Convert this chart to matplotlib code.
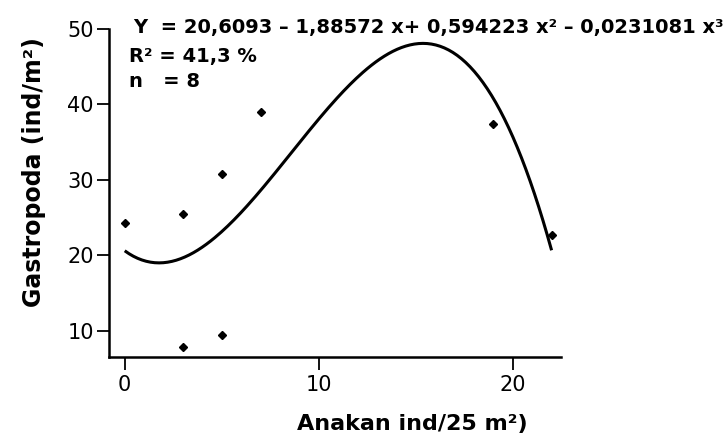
import numpy as np
import matplotlib
matplotlib.use("Agg")
import matplotlib.pyplot as plt

# observed points
anakan = [0, 3, 3, 5, 5, 7, 19, 22]
gastropoda = [24.3, 25.5, 7.9, 9.5, 30.8, 39.0, 37.4, 22.7]

# cubic fit coefficients, highest power first
coef = [-0.0231081, 0.594223, -1.88572, 20.6093]

xticks = [0, 10, 20]
yticks = [10, 20, 30, 40, 50]

plt.rcParams['font.family'] = ['DejaVu Sans']

fig = plt.figure(figsize=(7.28, 4.4), dpi=100)
ax = fig.add_axes([0.15, 0.189, 0.621, 0.745])

xs = np.linspace(min(anakan), max(anakan), 200)
ax.plot(xs, np.polyval(coef, xs), color='black', lw=2.2, solid_capstyle='butt')
ax.plot(anakan, gastropoda, 'D', color='black', ms=4.5, ls='none')

ax.set_xlim(-0.8, 22.5)
ax.set_ylim(6.55, 50)
ax.set_xticks(xticks)
ax.set_yticks(yticks)

for s in ['top', 'right']:
    ax.spines[s].set_visible(False)
for s in ['left', 'bottom']:
    ax.spines[s].set_linewidth(1.8)
ax.spines['left'].set_bounds(6.55, 50)

ax.tick_params(axis='both', direction='out', length=9, width=1.3, labelsize=15)
ax.tick_params(axis='y', pad=2)
ax.tick_params(axis='x', pad=4)

ax.set_xlabel('Anakan ind/25 m²)', fontsize=16, fontweight='bold')
ax.set_ylabel('Gastropoda (ind/m²)', fontsize=17, fontweight='bold')
ax.xaxis.set_label_coords(0.67, -0.175)
ax.yaxis.set_label_coords(-0.139, 0.564)

eq = 'Y  = 20,6093 – 1,88572 x+ 0,594223 x² – 0,0231081 x³'
fig.text(0.183, 0.938, eq, fontsize=14, fontweight='bold', va='center', ha='left')
fig.text(0.177, 0.871, 'R² = 41,3 %', fontsize=14, fontweight='bold', va='center', ha='left')
fig.text(0.177, 0.815, 'n   = 8', fontsize=14, fontweight='bold', va='center', ha='left')

fig.savefig('out.png', dpi=100)
